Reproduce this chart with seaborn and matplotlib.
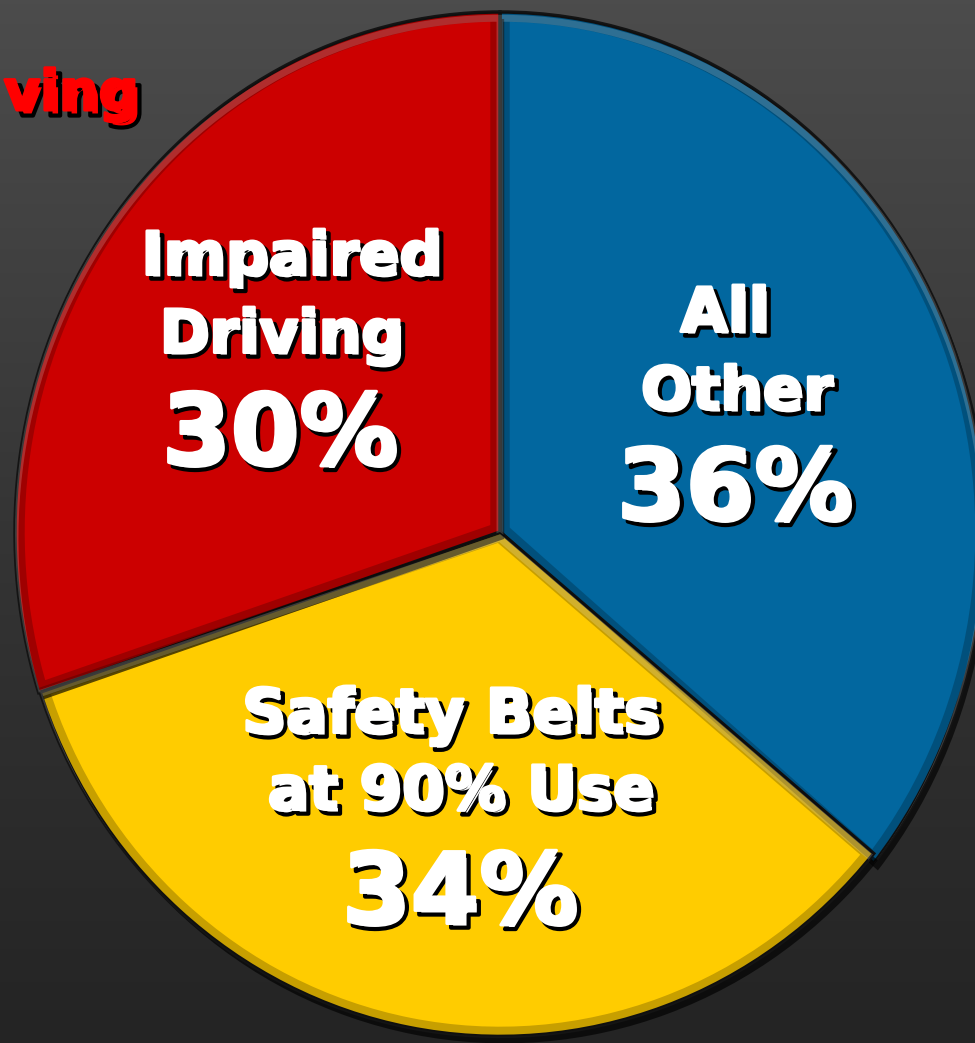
import numpy as np
import matplotlib
matplotlib.use("Agg")
import matplotlib.pyplot as plt
import matplotlib.patheffects as pe
import matplotlib.transforms as mtransforms
from matplotlib.patches import PathPatch
from matplotlib.colors import LinearSegmentedColormap
import seaborn as sns

# ---- data ----
categories = ["All Other", "Safety Belts at 90% Use", "Impaired Driving"]
values = [36, 34, 30]
label_lines = [["All", "Other"], ["Safety Belts", "at 90% Use"], ["Impaired", "Driving"]]
pct_labels = ["36%", "34%", "30%"]
slice_colors = ["#02679f", "#ffcc00", "#cc0000"]
title_fragment = "ving"

sns.set_theme(style="dark")
plt.rcParams["font.family"] = ["DejaVu Sans"]

W, H = 975, 1043
fig = plt.figure(figsize=(W / 100, H / 100), dpi=100)

# background gradient
bg = fig.add_axes([0, 0, 1, 1], zorder=0)
grad = np.linspace(0, 1, 256).reshape(-1, 1)
cmap = LinearSegmentedColormap.from_list("bg", ["#4c4c4c", "#353535", "#242424"])
bg.imshow(grad, aspect="auto", cmap=cmap, extent=[0, 1, 0, 1])
bg.set_axis_off()

ax = fig.add_axes([0, 0, 1, 1], zorder=1)
ax.patch.set_alpha(0)
wedges, _ = ax.pie(values, colors=slice_colors, startangle=90, counterclock=False,
                   radius=1.0,
                   wedgeprops=dict(edgecolor="#141414", linewidth=2.5))

# ellipse mapping: center pixel (500, 532), rx=485, ry=520
cx, cy, rx, ry = 500, 532, 485, 520
ax.set_aspect("auto")
ax.set_xlim(-cx / rx, (W - cx) / rx)
ax.set_ylim(-(H - cy) / ry, cy / ry)
ax.set_axis_off()

# the lower slice sits a little flatter in the picture
wedges[1].set_transform(mtransforms.Affine2D().scale(1, 0.97) + ax.transData)

for w in wedges:
    w.set_path_effects([pe.withSimplePatchShadow(offset=(3, -5), shadow_rgbFace="black", alpha=0.65)])
    # inner bevel: dark rim and light top highlight, clipped to the slice
    rim = PathPatch(w.get_path(), transform=w.get_transform(), facecolor="none",
                    edgecolor="black", linewidth=14, alpha=0.22, zorder=w.get_zorder() + 0.1)
    ax.add_patch(rim)
    rim.set_clip_path(w)
    hl = PathPatch(w.get_path(),
                   transform=mtransforms.Affine2D().translate(0, -0.012) + w.get_transform(),
                   facecolor="none", edgecolor="white", linewidth=5, alpha=0.18,
                   zorder=w.get_zorder() + 0.2)
    ax.add_patch(hl)
    hl.set_clip_path(w)

shadow = [pe.Stroke(offset=(3, -3), linewidth=3, foreground="black"),
          pe.Stroke(linewidth=2.2, foreground="white"), pe.Normal()]

def put(text, x, y, size):
    fig.text(x / W, 1 - y / H, text, ha="center", va="center", color="white",
             fontsize=size, fontweight="bold", path_effects=shadow, zorder=5)

# All Other
put(label_lines[0][0], 725, 315, 44)
put(label_lines[0][1], 737, 393, 43)
put(pct_labels[0], 735, 492, 71)
# Safety Belts
put(label_lines[1][0], 451, 716, 44)
put(label_lines[1][1], 461, 793, 44)
put(pct_labels[1], 460, 896, 71)
# Impaired Driving
put(label_lines[2][0], 292, 258, 43)
put(label_lines[2][1], 282, 336, 43)
put(pct_labels[2], 280, 437, 71)

red_shadow = [pe.Stroke(offset=(4, -4), linewidth=3, foreground="black"),
              pe.Stroke(linewidth=2.2, foreground="#ff0000"), pe.Normal()]
fig.text(4 / W, 1 - 95 / H, title_fragment, ha="left", va="center", color="#ff0000",
         fontsize=40, fontweight="bold", path_effects=red_shadow, zorder=5)

fig.savefig("out.png", dpi=100)
